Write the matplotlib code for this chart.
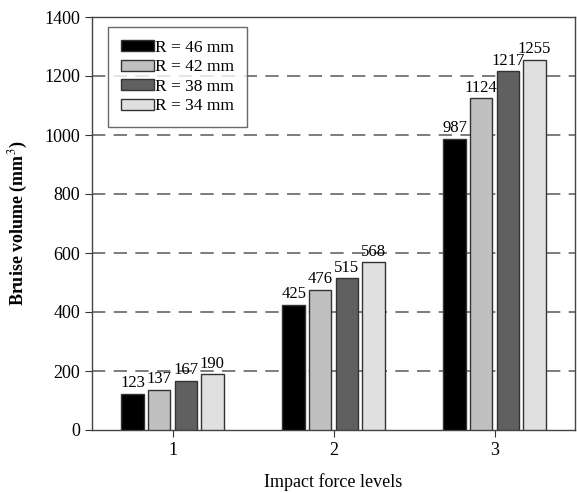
import matplotlib.pyplot as plt
import numpy as np

plt.rcParams["font.family"] = ["Liberation Serif", "DejaVu Serif"]
plt.rcParams["mathtext.fontset"] = "stix"

levels = ["1", "2", "3"]
series = ["R = 46 mm", "R = 42 mm", "R = 38 mm", "R = 34 mm"]
r46 = [123, 425, 987]
r42 = [137, 476, 1124]
r38 = [167, 515, 1217]
r34 = [190, 568, 1255]
colors = ["#000000", "#c0c0c0", "#606060", "#e0e0e0"]

fig = plt.figure(figsize=(5.77, 4.93), dpi=100)
ax = fig.add_axes([92 / 577, 1 - 430 / 493, 483 / 577, 413 / 493])

x = np.arange(1, len(levels) + 1)
width = 0.14
step = 0.165
for i, (vals, lab, col) in enumerate(zip([r46, r42, r38, r34], series, colors)):
    pos = x + (i - 1.5) * step
    bars = ax.bar(pos, vals, width, color=col, edgecolor="#333333",
                  linewidth=1.0, label=lab, zorder=3)
    for b, v in zip(bars, vals):
        ax.text(b.get_x() + b.get_width() / 2, v + 8, str(v),
                ha="center", va="bottom", fontsize=12, zorder=4)

ax.set_xlim(0.5, 3.5)
ax.set_ylim(0, 1400)
ax.set_yticks(range(0, 1401, 200))
ax.set_xticks(x)
ax.set_xticklabels(levels)
for yv in range(200, 1400, 200):
    ax.axhline(yv, color="#666666", linestyle=(0, (8, 5)), linewidth=1.2, zorder=1)

ax.tick_params(axis="both", direction="out", length=5, labelsize=13, color="#333333")
for s in ax.spines.values():
    s.set_color("#444444")
    s.set_linewidth(1.0)

ax.set_ylabel("Bruise volume (mm$^3$)", fontsize=13, fontweight="bold", labelpad=10)
ax.set_xlabel("Impact force levels", fontsize=13, labelpad=10)

leg = ax.legend(loc="upper left", bbox_to_anchor=(0.033, 0.976), fontsize=12.5,
                frameon=True, fancybox=False, edgecolor="#444444",
                handlelength=1.9, handleheight=0.6, handletextpad=0.05,
                labelspacing=0.2, borderpad=0.75, borderaxespad=0)
leg.get_frame().set_linewidth(1.0)

fig.savefig("out.png", dpi=100)
